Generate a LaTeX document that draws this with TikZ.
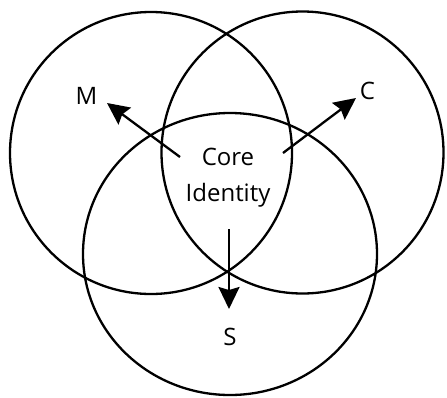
\documentclass[tikz,border=0pt]{standalone}
\usepackage{fontspec}
\setmainfont{Open Sans}
\usetikzlibrary{arrows.meta}
\begin{document}
\begin{tikzpicture}[x=1pt,y=-1pt,
  ring/.style={draw=black,line width=2.3pt},
  lbl/.style={font=\fontsize{24}{36}\selectfont,inner sep=0pt,align=center},
  arr/.style={line width=2.3pt,-{Stealth[length=22pt,width=21pt,inset=3pt]}}]
\useasboundingbox (0,0) rectangle (447,397);
\draw[ring] (151,153) circle (141);
\draw[ring] (302.5,152.5) circle (141);
\draw[ring] (230,254) ellipse [x radius=147, y radius=141];
\node[lbl] (core) at (228,178) {Core\\Identity};
\node[lbl] (M) at (86.5,96) {M};
\node[lbl] (C) at (367.5,91) {C};
\node[lbl] (S) at (230,337) {S};
\coordinate (ms) at (180,157);
\coordinate (me) at (107,103);
\coordinate (cs) at (283,153);
\coordinate (ce) at (356,98);
\coordinate (ss) at (229,229);
\coordinate (se) at (229,309);
\draw[arr] (ms) -- (me);
\draw[arr] (cs) -- (ce);
\draw[arr] (ss) -- (se);
\end{tikzpicture}
\end{document}
